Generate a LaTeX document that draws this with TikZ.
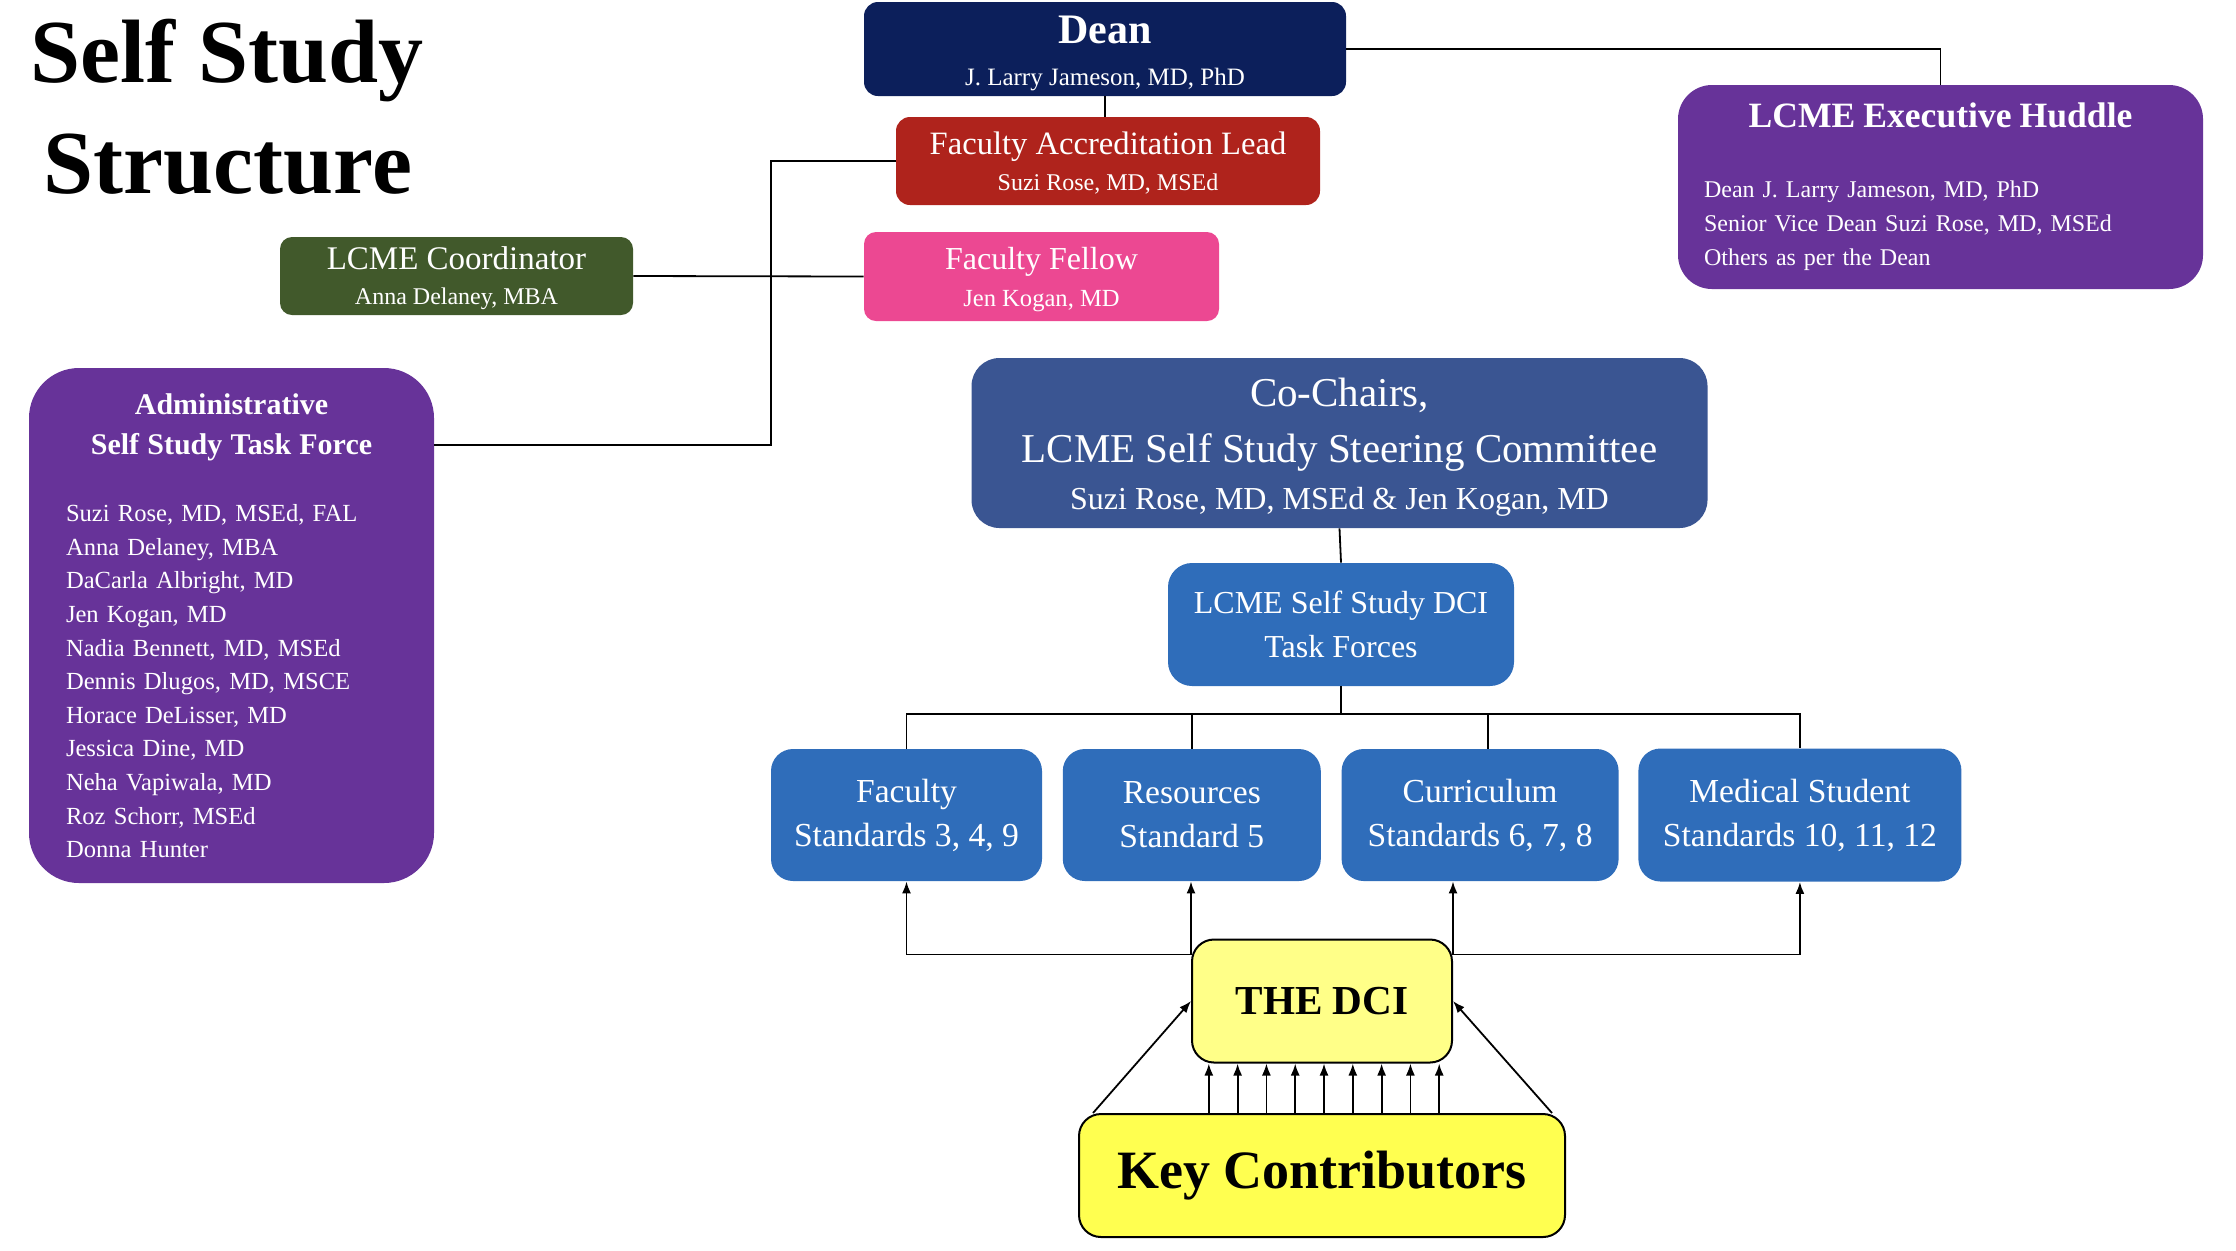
\documentclass[tikz,border=0pt]{standalone}
\usepackage{fontspec}
\setmainfont{Liberation Serif}
\usetikzlibrary{arrows.meta,positioning,calc}
\definecolor{navy}{RGB}{12,31,91}
\definecolor{brick}{RGB}{175,35,28}
\definecolor{rose}{RGB}{236,72,146}
\definecolor{moss}{RGB}{65,89,43}
\definecolor{plum}{RGB}{103,51,153}
\definecolor{slate}{RGB}{58,85,146}
\definecolor{azure}{RGB}{47,109,186}
\definecolor{lemon}{RGB}{255,255,80}
\definecolor{cream}{RGB}{255,255,136}
\newcommand{\fsz}[2]{\fontsize{#1}{#2}\selectfont}
\tikzset{
  >={Latex[length=6pt,width=4.5pt]},
  solid box/.style={fill=#1,text=white,rounded corners=7pt,align=center,inner sep=0pt},
  solid box/.default=azure,
  note box/.style={draw=black,line width=1pt,fill=#1,text=black,rounded corners=11pt,
    align=center,inner sep=0pt},
  note box/.default=lemon,
  link/.style={draw=black,line width=0.9pt},
  flow/.style={->,link},
}
\begin{document}
\begin{tikzpicture}[x=0.5pt,y=-0.5pt]
  \useasboundingbox (0,0) rectangle (2236,1250);
  % title
  \node[anchor=base,font=\fsz{45}{55}\bfseries] (title1) at (227,82) {Self Study};
  \node[anchor=base,font=\fsz{45}{55}\bfseries] (title2) at (228,193) {Structure};
  % leadership
  \node[solid box=navy,minimum width=241pt,minimum height=47pt,font=\fsz{12.5}{21}] (dean) at (1105,49)
    {{\fsz{21}{25}\bfseries\rule{0pt}{18pt}Dean}\\J. Larry Jameson, MD, PhD};
  \node[solid box=brick,minimum width=212pt,minimum height=44pt,font=\fsz{12}{18}] (fal) at (1108,161)
    {{\fsz{16.3}{20}\rule{0pt}{13pt}Faculty Accreditation Lead}\\Suzi Rose, MD, MSEd};
  \node[solid box=rose,rounded corners=6pt,minimum width=177.5pt,minimum height=44.5pt,font=\fsz{12.3}{18.5}] (fellow) at (1041.5,276.5)
    {{\fsz{16}{20}\rule{0pt}{14pt}Faculty Fellow}\\Jen Kogan, MD};
  \node[solid box=moss,rounded corners=6pt,minimum width=176.5pt,minimum height=39pt,font=\fsz{12}{17.5}] (coord) at (456.5,276)
    {{\fsz{16.5}{20}\rule{0pt}{14pt}LCME Coordinator}\\Anna Delaney, MBA};
  \node[solid box=plum,rounded corners=17pt,minimum height=102pt,text width=236.5pt,inner xsep=13pt,
    align=left,font=\fsz{12}{17}] (huddle) at (1940.5,187)
    {{\centering\bfseries\fsz{17.8}{20}LCME Executive Huddle\par}\vspace{18pt}
     Dean J. Larry Jameson, MD, PhD\\
     Senior Vice Dean Suzi Rose, MD, MSEd\\
     Others as per the Dean};
  \node[solid box=plum,rounded corners=25pt,minimum height=257.5pt,text width=165.5pt,inner xsep=18.5pt,
    align=left,font=\fsz{12.3}{16.8}] (admin) at (231.5,625.5)
    {{\centering\bfseries\fsz{15}{20}Administrative\\Self Study Task Force\par}\vspace{17pt}
     Suzi Rose, MD, MSEd, FAL\\
     Anna Delaney, MBA\\
     DaCarla Albright, MD\\
     Jen Kogan, MD\\
     Nadia Bennett, MD, MSEd\\
     Dennis Dlugos, MD, MSCE\\
     Horace DeLisser, MD\\
     Jessica Dine, MD\\
     Neha Vapiwala, MD\\
     Roz Schorr, MSEd\\
     Donna Hunter};
  % steering committee and task forces
  \node[solid box=slate,rounded corners=14pt,minimum width=368pt,minimum height=85pt,font=\fsz{16}{23.5}] (cochairs) at (1339.5,443)
    {{\fsz{20.5}{24}\rule{0pt}{18pt}Co-Chairs,}\\[4.5pt]{\fsz{20.5}{24}LCME Self Study Steering Committee}\\Suzi Rose, MD, MSEd \& Jen Kogan, MD};
  \node[solid box=azure,rounded corners=12pt,minimum width=173pt,minimum height=61.5pt,font=\fsz{16}{22}] (dcitf) at (1341,624.5)
    {LCME Self Study DCI\\Task Forces};
  \node[solid box=azure,rounded corners=11pt,minimum width=135.5pt,minimum height=66pt,font=\fsz{16.8}{22}] (fac) at (906.5,815)
    {Faculty\\Standards 3, 4, 9};
  \node[solid box=azure,rounded corners=11pt,minimum width=129pt,minimum height=66pt,font=\fsz{16.8}{22},right=10pt of fac] (res)
    {Resources\\Standard 5};
  \node[solid box=azure,rounded corners=11pt,minimum width=138.5pt,minimum height=66pt,font=\fsz{16.8}{22},right=10pt of res] (cur)
    {Curriculum\\Standards 6, 7, 8};
  \node[solid box=azure,rounded corners=11pt,minimum width=161.5pt,minimum height=66.5pt,font=\fsz{16.8}{22},right=9.5pt of cur] (med)
    {Medical Student\\Standards 10, 11, 12};
  % the DCI
  \node[note box=cream,minimum width=130pt,minimum height=61.5pt,font=\fsz{20.6}{24}\bfseries] (dci) at (1322,1001) {THE DCI};
  \node[note box=lemon,minimum width=243pt,minimum height=61.5pt,font=\fsz{27}{30}\bfseries] (key) at (1322,1175.5) {Key Contributors};
  % connectors
  \draw[link] (dean.east) -| (huddle.north);
  \draw[link] (dean.south) -- (dean.south |- fal.north);
  \coordinate (adminlink) at (771,445);
  \draw[link] (fal.west) -| (adminlink) -- (admin.east |- adminlink);
  \draw[link] (coord.east) -- (fellow.west);
  \draw[link] (cochairs.south) -- (dcitf.north);
  \coordinate (bus) at (1341,714);
  \draw[link] (dcitf.south) -- (bus);
  \draw[link] (fac.north) |- (bus) -| (med.north);
  \draw[link] (res.north) -- (res.north |- bus);
  \draw[link] ([xshift=4pt]cur.north) -- ([xshift=4pt]cur.north |- bus);
  \coordinate (dcil) at ([yshift=-8pt]dci.north west);
  \coordinate (dcir) at ([yshift=-8pt]dci.north east);
  \draw[flow] (dcil) -| (fac.south);
  \draw[flow] (dcil) -- (dcil |- res.south);
  \draw[flow] (dcir) -| (med.south);
  \draw[flow] (dcir) -- (dcir |- cur.south);
  \foreach \dx in {-4,...,4}
    \draw[flow] ([xshift=\dx*14.4pt+1pt]key.north) -- ([xshift=\dx*14.4pt+1pt]dci.south);
  \draw[flow] ([xshift=7.5pt]key.north west) -- (dci.west);
  \draw[flow] ([xshift=-7pt]key.north east) -- (dci.east);
\end{tikzpicture}
\end{document}
